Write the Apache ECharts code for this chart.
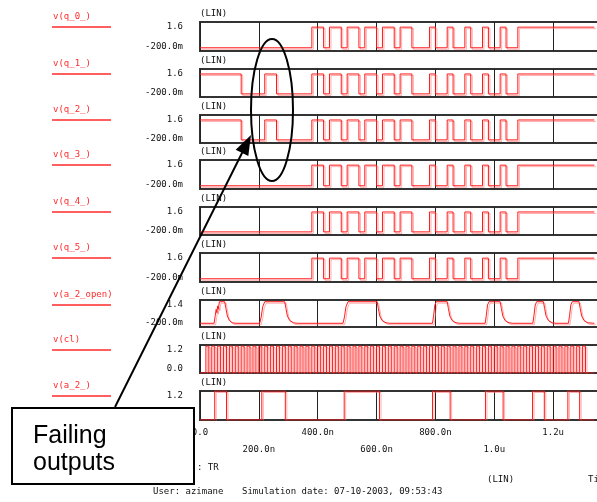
<!DOCTYPE html>
<html><head><meta charset="utf-8">
<script src="https://cdn.jsdelivr.net/npm/echarts@6/dist/echarts.min.js"></script>
<style>html,body{margin:0;padding:0;background:#fff}#c{width:597px;height:502px}</style>
</head><body><div id="c"></div>
<script>
// ---------- data ----------
const panelNames = ['v(q_0_)','v(q_1_)','v(q_2_)','v(q_3_)','v(q_4_)','v(q_5_)','v(a_2_open)','v(cl)','v(a_2_)'];
const yMin = [-0.2,-0.2,-0.2,-0.2,-0.2,-0.2,-0.2,0,0];
const yMax = [1.6,1.6,1.6,1.6,1.6,1.6,1.4,1.2,1.2];
const yTopLabels = ['1.6','1.6','1.6','1.6','1.6','1.6','1.4','1.2','1.2'];
const yBottomLabels = ['-200.0m','-200.0m','-200.0m','-200.0m','-200.0m','-200.0m','-200.0m','0.0',''];
const xTickLabels = ['0.0','200.0n','400.0n','600.0n','800.0n','1.0u','1.2u'];
const tEnd = 1340;

// digital q outputs: edge times (ns), level toggles at each edge
const qHigh = 1.28;
const qEdges = [380,420,440,480,500,540,560,600,620,660,680,720,780,800,840,860,900,920,960,980,1020,1040,1080];
const qFailLead = [140,220,260];      // extra early edges of q_1 / q_2 (start high)

// clock edges (rise, fall, rise, ...)
const clHigh = 1.15;
const clEdges = [
  20,30,40,50,60,70,80,90,100,110,
  120,130,140,150,160,170,180,190,200,210,
  220,230,240,250,260,270,280,290,300,310,
  320,330,340,350,360,370,380,390,400,410,
  420,430,440,450,460,470,480,490,500,510,
  520,530,540,550,560,570,580,590,600,610,
  620,630,640,650,660,670,680,690,700,710,
  720,730,740,750,760,770,780,790,800,810,
  820,830,840,850,860,870,880,890,900,910,
  920,930,940,950,960,970,980,990,1000,1010,
  1020,1030,1040,1050,1060,1070,1080,1090,1100,1110,
  1120,1130,1140,1150,1160,1170,1180,1190,1200,1210,
  1220,1230,1240,1250,1260,1270,1280,1290,1300,1310
];

// a_2_ edges (start low)
const a2High = 1.2;
const a2Edges = [50,90,210,290,490,610,790,850,970,1030,1130,1170,1250,1290];

// a_2_open analog waveform
const a2OpenT = [0,48,52,55,57,60,62,66,84,88,93,100,110,122,
  203,208,213,220,288,292,297,305,318,330,
  486,491,496,503,602,606,611,619,632,645,
  790,794,798,803,840,844,849,857,870,883,
  969,973,977,982,1020,1024,1029,1037,1050,1063,
  1131,1135,1139,1144,1167,1171,1176,1184,1197,1210,
  1252,1256,1260,1265,1288,1292,1297,1305,1318,1340];
const a2OpenV = [0.02,0.02,0.5,0.85,0.65,1.05,0.85,1.3,1.3,0.9,0.45,0.18,0.05,0.02,
  0.02,0.4,1.0,1.3,1.3,0.9,0.45,0.18,0.05,0.02,
  0.02,0.4,1.0,1.3,1.3,0.9,0.45,0.18,0.05,0.02,
  0.02,0.5,1.1,1.3,1.3,0.9,0.45,0.18,0.05,0.02,
  0.02,0.5,1.1,1.3,1.3,0.9,0.45,0.18,0.05,0.02,
  0.02,0.5,1.1,1.3,1.3,0.9,0.45,0.18,0.05,0.02,
  0.02,0.5,1.1,1.3,1.3,0.9,0.45,0.18,0.05,0.02];

// ---------- layout ----------
const gridTops = [22,69,115,160,207,253,300,345,391];
const gridHeights = [29,28,28,29,28,29,27,28,29];
const MONO = "'DejaVu Sans Mono', 'Liberation Mono', monospace";

function stepData(edges, startHigh, lo, hi) {
  let lvl = startHigh;
  const d = [[0, lvl ? hi : lo]];
  edges.forEach(t => { lvl = !lvl; d.push([t, lvl ? hi : lo]); });
  d.push([tEnd, lvl ? hi : lo]);
  return d;
}

const seriesData = [
  stepData(qEdges, false, 0, qHigh),
  stepData(qFailLead.concat(qEdges), true, 0, qHigh),
  stepData(qFailLead.concat(qEdges), true, 0, qHigh),
  stepData(qEdges, false, 0, qHigh),
  stepData(qEdges, false, 0, qHigh),
  stepData(qEdges, false, 0, qHigh),
  a2OpenT.map((t, i) => [t, a2OpenV[i]]),
  stepData(clEdges, false, 0, clHigh),
  stepData(a2Edges, false, 0, a2High)
];

const grids = [], xAxes = [], yAxes = [], series = [], graphics = [];
panelNames.forEach((name, i) => {
  grids.push({left: 200, width: 412, top: gridTops[i], height: gridHeights[i],
    outerBoundsMode: 'none', containLabel: false,
    show: true, borderColor: '#333', borderWidth: 2, backgroundColor: 'transparent'});
  const last = i === panelNames.length - 1;
  xAxes.push({gridIndex: i, type: 'value', min: 0, max: 1400, interval: 200,
    axisLine: {show: false}, axisTick: {show: false},
    splitLine: {show: true, lineStyle: {color: '#222', width: 1}},
    axisLabel: {show: last, margin: 4, fontFamily: MONO, fontSize: 9, color: '#111', lineHeight: 17,
      verticalAlign: 'top',
      formatter: v => { const k = Math.round(v / 200); const s = xTickLabels[k] || ''; return k % 2 === 0 ? s : '\n' + s; }}
  });
  const mid = (yMin[i] + yMax[i]) / 2;
  yAxes.push({gridIndex: i, type: 'value', min: yMin[i], max: yMax[i], interval: yMax[i] - yMin[i],
    axisLine: {show: false}, axisTick: {show: false}, splitLine: {show: false},
    axisLabel: {margin: 17, fontFamily: MONO, fontSize: 9, color: '#111',
      verticalAlignMinLabel: 'bottom', verticalAlignMaxLabel: 'top',
      formatter: v => v > mid ? yTopLabels[i] : yBottomLabels[i]},
    name: '(LIN)', nameLocation: 'end', nameGap: 4,
    nameTextStyle: {align: 'left', verticalAlign: 'bottom', fontFamily: MONO, fontSize: 9, color: '#111'}
  });
  series.push({type: 'line', xAxisIndex: i, yAxisIndex: i, data: seriesData[i],
    step: i === 6 ? false : 'end', showSymbol: false, symbol: 'none', animation: false,
    lineStyle: {color: '#ff1a1a', width: 1, shadowColor: 'rgba(255,110,110,0.55)', shadowOffsetX: 1.5, shadowOffsetY: 1.5, shadowBlur: 0}
  });
  graphics.push({type: 'text', z: 50, style: {text: name, x: 53, y: gridTops[i] - 5, fill: '#ff2a2a',
    font: '9px ' + MONO, verticalAlign: 'middle', align: 'left'}});
  graphics.push({type: 'line', z: 50, shape: {x1: 52, y1: gridTops[i] + 5, x2: 111, y2: gridTops[i] + 5},
    style: {stroke: '#ff2a2a', lineWidth: 1.5}});
});

// bottom texts
graphics.push({type: 'text', z: 50, style: {text: ': TR', x: 197, y: 468, font: '9px ' + MONO, fill: '#111', verticalAlign: 'middle'}});
graphics.push({type: 'text', z: 50, style: {text: '(LIN)', x: 487, y: 480, font: '9px ' + MONO, fill: '#111', verticalAlign: 'middle'}});
graphics.push({type: 'text', z: 50, style: {text: 'Time', x: 588, y: 480, font: '9px ' + MONO, fill: '#111', verticalAlign: 'middle'}});
graphics.push({type: 'text', z: 50, style: {text: 'User: azimane', x: 153, y: 492, font: '9px ' + MONO, fill: '#111', verticalAlign: 'middle'}});
graphics.push({type: 'text', z: 50, style: {text: 'Simulation date: 07-10-2003, 09:53:43', x: 242, y: 492, font: '9px ' + MONO, fill: '#111', verticalAlign: 'middle'}});

// annotations
graphics.push({type: 'ellipse', z: 100, shape: {cx: 272, cy: 110, rx: 21, ry: 71}, style: {fill: 'none', stroke: '#000', lineWidth: 2}});
graphics.push({type: 'line', z: 100, shape: {x1: 115, y1: 407, x2: 243, y2: 151}, style: {stroke: '#000', lineWidth: 2}});
graphics.push({type: 'polygon', z: 100, shape: {points: [[251, 135], [235.7, 149.8], [248.3, 156]]}, style: {fill: '#000'}});
graphics.push({type: 'rect', z: 110, shape: {x: 12, y: 408, width: 182, height: 76}, style: {fill: '#fff', stroke: '#000', lineWidth: 2}});
graphics.push({type: 'text', z: 120, style: {text: 'Failing', x: 33, y: 436, font: '25px "Liberation Sans", Arial, sans-serif', fill: '#000', verticalAlign: 'middle'}});
graphics.push({type: 'text', z: 120, style: {text: 'outputs', x: 33, y: 463, font: '25px "Liberation Sans", Arial, sans-serif', fill: '#000', verticalAlign: 'middle'}});

const chart = echarts.init(document.getElementById('c'), null, {renderer: 'canvas'});
chart.setOption({
  animation: false,
  backgroundColor: '#fff',
  grid: grids, xAxis: xAxes, yAxis: yAxes, series: series,
  graphic: {elements: graphics}
});
</script></body></html>
